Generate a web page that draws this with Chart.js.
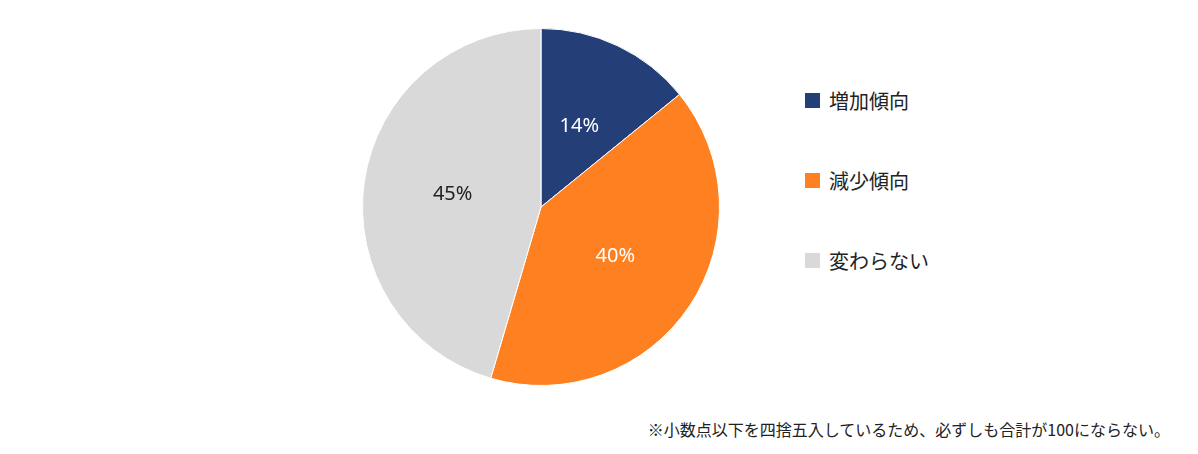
<!DOCTYPE html>
<html><head><meta charset="utf-8">
<script src="https://cdn.jsdelivr.net/npm/chart.js@4"></script>
<style>
body{margin:0;width:1198px;height:454px;background:#fff;font-family:"Noto Sans CJK JP","Noto Sans",sans-serif;position:relative;overflow:hidden}
#wrap{position:absolute;left:361px;top:27px;width:360px;height:360px}
#legend{position:absolute;left:805px;top:84px}
.li{display:flex;align-items:center;height:32px;margin-bottom:48px;font-size:20px;color:#222}
.sw{width:15px;height:15px;margin-right:9px}
#note{position:absolute;right:28px;top:417px;font-size:16px;color:#222}
</style></head><body>
<div id="wrap"><canvas id="c"></canvas></div>
<div id="legend"></div>
<div id="note">※小数点以下を四捨五入しているため、必ずしも合計が100にならない。</div>
<script>
const categories=["増加傾向","減少傾向","変わらない"];
const values=[14,40,45];
const colors=["#243F78","#FF8021","#D9D9D9"];
const labelColors=["#fff","#fff","#222"];
const lg=document.getElementById('legend');
categories.forEach((c,i)=>{lg.innerHTML+=`<div class="li"><div class="sw" style="background:${colors[i]}"></div>${c}</div>`;});
const labelPlugin={id:'lbl',afterDatasetsDraw(ch){const ctx=ch.ctx;ch.getDatasetMeta(0).data.forEach((a,i)=>{const p=a.tooltipPosition();ctx.save();ctx.fillStyle=labelColors[i];ctx.font='20px "Noto Sans","DejaVu Sans",sans-serif';ctx.textAlign='center';ctx.textBaseline='middle';ctx.fillText(values[i]+'%',p.x,p.y);ctx.restore();});}};
new Chart(document.getElementById('c'),{type:'pie',data:{labels:categories,datasets:[{data:values,backgroundColor:colors,borderColor:'#fff',borderWidth:1}]},
options:{responsive:true,maintainAspectRatio:false,animation:false,layout:{padding:1},plugins:{legend:{display:false},tooltip:{enabled:false}}},plugins:[labelPlugin]});
</script></body></html>
